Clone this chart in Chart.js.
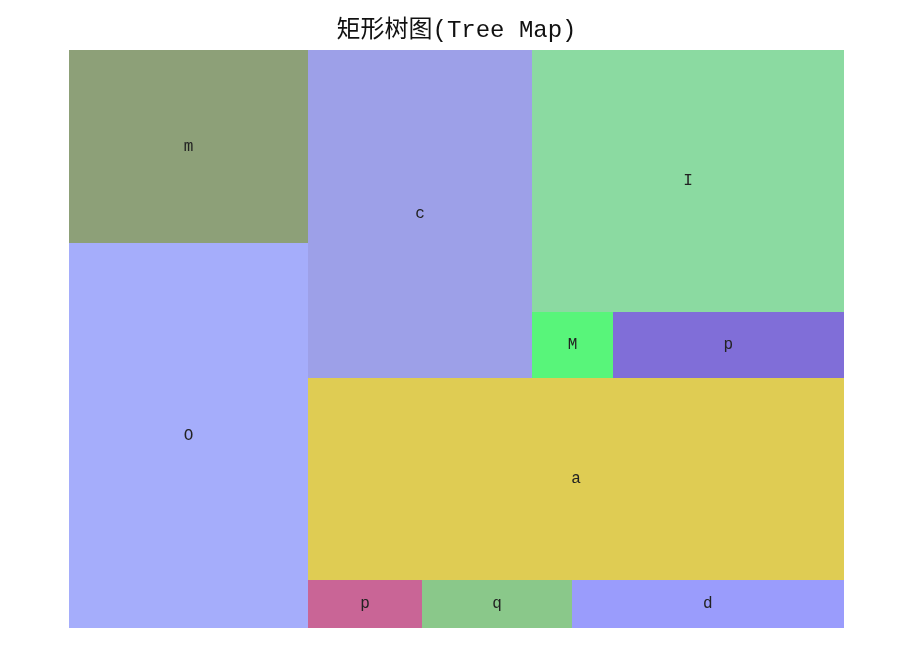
<!DOCTYPE html>
<html>
<head>
<meta charset="utf-8">
<script src="https://cdn.jsdelivr.net/npm/chart.js@4.4.1/dist/chart.umd.min.js"></script>
<style>
  html, body { margin: 0; padding: 0; background: #ffffff; }
  #wrap { width: 900px; height: 667px; }
</style>
</head>
<body>
<div id="wrap"><canvas id="c" width="900" height="667"></canvas></div>
<script>
// ---- data ----
const titleText = '矩形树图(Tree Map)';
const cellLabels = ['m', 'O', 'c', 'I', 'M', 'p', 'a', 'p', 'q', 'd'];
const cellValues = [461, 920, 735, 817, 53, 152, 1083, 55, 72, 131];
const cellColors = ['#8da078', '#a5adfb', '#9da0e8', '#8bdaa1', '#58f57a',
                    '#806ed8', '#dfcc53', '#c96596', '#8ac88a', '#9a9cfc'];
// nesting of cells (indices into the arrays above) with split direction
const cellTree = ['h', ['v', 0, 1],
                       ['v', ['h', 2, ['v', 3, ['h', 4, 5]]],
                             ['v', 6, ['h', 7, 8, 9]]]];

function nodeSum(node) {
  if (typeof node === 'number') return cellValues[node];
  return node.slice(1).reduce((s, k) => s + nodeSum(k), 0);
}
function layout(node, x0, y0, x1, y1, out) {
  if (typeof node === 'number') { out.push({ i: node, x0, y0, x1, y1 }); return; }
  const dir = node[0];
  const kids = node.slice(1);
  const total = nodeSum(node);
  let pos = dir === 'h' ? x0 : y0;
  kids.forEach(k => {
    const f = nodeSum(k) / total;
    if (dir === 'h') {
      const nx = pos + (x1 - x0) * f;
      layout(k, pos, y0, nx, y1, out); pos = nx;
    } else {
      const ny = pos + (y1 - y0) * f;
      layout(k, x0, pos, x1, ny, out); pos = ny;
    }
  });
}

const treemapPlugin = {
  id: 'treemapCells',
  beforeDatasetsDraw(chart) {
    const ctx = chart.ctx;
    const xs = chart.scales.x, ys = chart.scales.y;
    const cells = [];
    layout(cellTree, 0, 0, 1, 1, cells);
    ctx.save();
    cells.forEach(c => {
      const px0 = Math.round(xs.getPixelForValue(c.x0));
      const px1 = Math.round(xs.getPixelForValue(c.x1));
      const py0 = Math.round(ys.getPixelForValue(c.y0));
      const py1 = Math.round(ys.getPixelForValue(c.y1));
      ctx.fillStyle = cellColors[c.i];
      ctx.fillRect(px0, py0, px1 - px0, py1 - py0);
    });
    ctx.fillStyle = '#222222';
    ctx.font = '16px "Liberation Mono", monospace';
    ctx.textAlign = 'center';
    ctx.textBaseline = 'middle';
    cells.forEach(c => {
      const cx = (xs.getPixelForValue(c.x0) + xs.getPixelForValue(c.x1)) / 2;
      const cy = (ys.getPixelForValue(c.y0) + ys.getPixelForValue(c.y1)) / 2;
      ctx.fillText(cellLabels[c.i], cx, cy);
    });
    ctx.restore();
  }
};

new Chart(document.getElementById('c'), {
  type: 'scatter',
  data: { datasets: [{ data: [] }] },
  options: {
    responsive: false,
    animation: false,
    layout: { padding: { left: 69, right: 56, top: 0, bottom: 39 } },
    plugins: {
      legend: { display: false },
      tooltip: { enabled: false },
      title: {
        display: true,
        text: titleText,
        color: '#111111',
        font: { family: '"Liberation Mono", "Noto Sans CJK SC", monospace', size: 24, weight: 'normal', lineHeight: 1.2 },
        padding: { top: 16, bottom: 5 }
      }
    },
    scales: {
      x: { type: 'linear', display: false, min: 0, max: 1 },
      y: { type: 'linear', display: false, min: 0, max: 1, reverse: true }
    }
  },
  plugins: [treemapPlugin]
});
</script>
</body>
</html>
